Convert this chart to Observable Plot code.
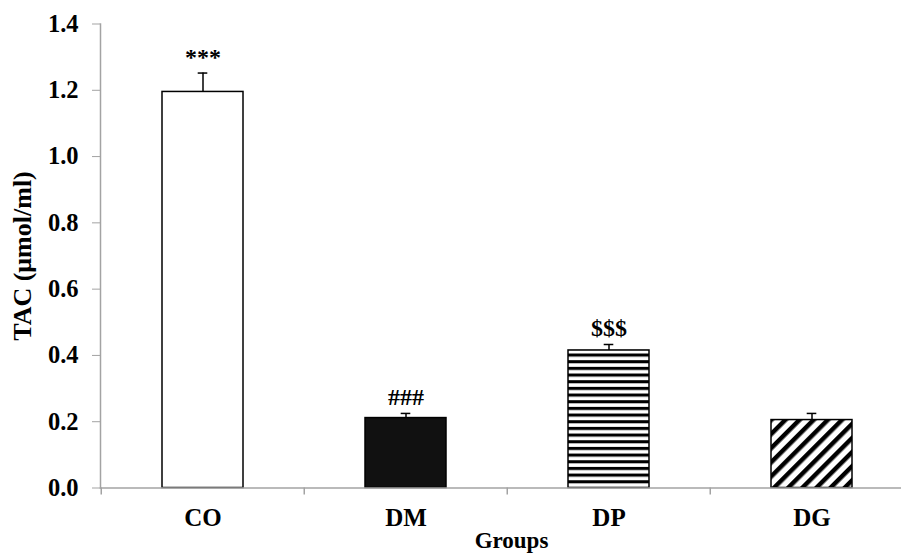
<!DOCTYPE html>
<html><head><meta charset="utf-8">
<script src="https://cdn.jsdelivr.net/npm/d3@7"></script>
<script src="https://cdn.jsdelivr.net/npm/@observablehq/plot@0.6"></script>
<style>body{margin:0;background:#fff} #chart svg{overflow:visible}</style>
</head><body><div id="chart"></div>
<script>
// ---- data ----
const groups = ["CO", "DM", "DP", "DG"];
const means  = [1.195, 0.211, 0.415, 0.205];
const errors = [0.057, 0.014, 0.018, 0.020];
const marksText = ["***", "###", "$$$", ""];
const yTicks = [0, 0.2, 0.4, 0.6, 0.8, 1.0, 1.2, 1.4];
const yLabel = "TAC (μmol/ml)";
const xLabel = "Groups";

// ---- styles ----
const fills = ["white", "#111", "url(#hstripes)", "url(#dstripes)"];
const axisGray = "#a3a3a3";
const font = "'Liberation Serif', 'Times New Roman', serif";

const W = 901, H = 553;
const xRange = [100, 914];
const step = (xRange[1] - xRange[0]) / groups.length;
const bandW = step * 0.4;
const capW = 10;
const capInset = (bandW - capW) / 2;

const data = groups.map((g, i) => ({group: g, mean: means[i], err: errors[i], note: marksText[i], i}));

const defsMark = () => {
  const ns = "http://www.w3.org/2000/svg";
  const defs = document.createElementNS(ns, "defs");
  defs.innerHTML = `
    <pattern id="hstripes" patternUnits="userSpaceOnUse" width="8" height="6.67">
      <rect width="8" height="6.67" fill="white"/>
      <rect width="8" height="3.1" fill="black"/>
    </pattern>
    <pattern id="dstripes" patternUnits="userSpaceOnUse" width="10" height="10" patternTransform="rotate(45)">
      <rect width="10" height="10" fill="white"/>
      <rect width="4.5" height="10" fill="black"/>
    </pattern>`;
  return defs;
};

const chart = Plot.plot({
  width: W, height: H,
  marginLeft: 100, marginTop: 23.5, marginBottom: 65.5, marginRight: 0,
  style: {fontFamily: font, fontWeight: "bold", color: "black", background: "white"},
  x: {type: "band", domain: groups, range: xRange, paddingInner: 0.6, paddingOuter: 0.3, axis: null},
  y: {domain: [0, 1.4], axis: null},
  color: {type: "identity"},
  marks: [
    defsMark,
    Plot.barY(data, {x: "group", y: "mean", fill: d => fills[d.i], stroke: "black", strokeWidth: 1.5}),
    Plot.frame({anchor: "left", stroke: axisGray, strokeWidth: 1.5}),
    Plot.frame({anchor: "bottom", stroke: axisGray, strokeWidth: 1.5}),
    Plot.axisY({ticks: yTicks, tickFormat: d3.format(".1f"), tickSize: 8, tickPadding: 14,
      stroke: axisGray, fill: "black", fontSize: 24.5, fontWeight: "bold", label: null}),
    Plot.axisX({tickSize: 7, text: null, dx: -step / 2, stroke: axisGray, strokeWidth: 1.5, label: null}),
    Plot.axisX({tickSize: 0, tickPadding: 20, fill: "black", fontSize: 25, fontWeight: "bold", label: null}),
    Plot.ruleX(data, {x: "group", y1: "mean", y2: d => d.mean + d.err, stroke: "black", strokeWidth: 1.5}),
    Plot.tickY(data, {x: "group", y: d => d.mean + d.err, insetLeft: capInset, insetRight: capInset, stroke: "black", strokeWidth: 1.5}),
    Plot.text(data, {x: "group", y: d => d.mean + d.err, text: "note", dy: -16, fontSize: 24, fontWeight: "bold", fill: "black"}),
    Plot.text([yLabel], {frameAnchor: "left", textAnchor: "middle", lineAnchor: "middle", rotate: -90, dx: -78, fontSize: 26, fontWeight: "bold", fill: "black"}),
    Plot.text([xLabel], {frameAnchor: "bottom", textAnchor: "middle", lineAnchor: "middle", dx: 10.5, dy: 53, fontSize: 23, fontWeight: "bold", fill: "black"})
  ]
});
document.getElementById("chart").appendChild(chart);
</script>
</body></html>
